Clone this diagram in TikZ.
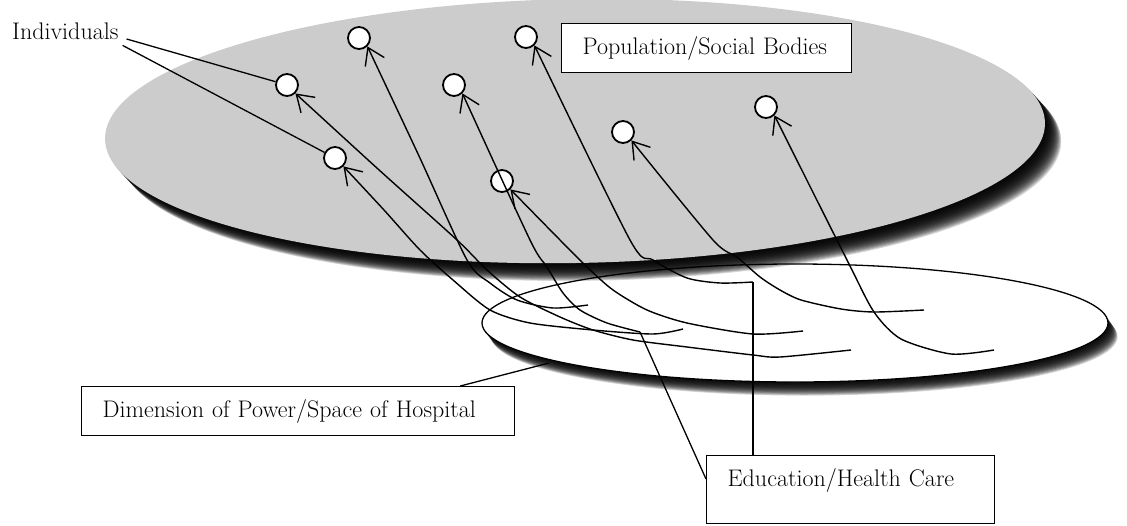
\documentclass[tikz,border=0pt]{standalone}
\usetikzlibrary{arrows.meta}
\begin{document}
\begin{tikzpicture}[x=1pt, y=-1pt, font=\fontsize{24}{28}\selectfont,
  person/.style={circle, draw, line width=1.8pt, fill=white, minimum size=22pt, inner sep=0pt},
  lbl/.style={draw, line width=1.3pt, fill=white, anchor=north west, align=left,
              inner xsep=21pt, inner ysep=0pt, text height=31pt, text depth=18pt},
  ar/.style={-{Straight Barb[length=16pt,width=21pt]}, line width=1.4pt},
  ln/.style={line width=1.3pt}]
\useasboundingbox (0,0) rectangle (1127,525);
% hospital disc with its shadow
\foreach \k in {1,...,16}
  \fill[black, opacity=0.17] (795+0.6*\k,323+0.85*\k) ellipse [x radius=313pt, y radius=59pt];
\draw[line width=1.3pt, fill=white] (795,323) ellipse [x radius=313pt, y radius=59pt];
% population disc with its shadow
\foreach \k in {1,...,20}
  \fill[black, opacity=0.16, rotate around={1:(575,131)}] (575+0.8*\k,131+0.9*\k) ellipse [x radius=470pt, y radius=132pt];
\fill[black!20, rotate around={1:(575,131)}] (575,131) ellipse [x radius=470pt, y radius=132pt];
\node[person] (p1) at (359,38) {};
\node[person] (p2) at (526,37) {};
\node[person] (p3) at (287,85) {};
\node[person] (p4) at (454,85) {};
\node[person] (p5) at (335,158) {};
\node[person] (p6) at (502,181) {};
\node[person] (p7) at (623,132) {};
\node[person] (p8) at (766,107) {};
\node[lbl, text width=248pt] (pop) at (561,23) {Population/Social Bodies};
\node[lbl, text width=391pt] (dim) at (81,386) {Dimension of Power/Space of Hospital};
\node[lbl, text width=246pt, text depth=37pt] (edu) at (706,455) {Education/Health Care};
\node[anchor=base west, inner xsep=4pt, inner ysep=6pt] (indiv) at (8,39) {Individuals};
\coordinate (h1) at (588,305);
\coordinate (h2) at (753,282);
\coordinate (h3) at (851,350);
\coordinate (h4) at (640,332);
\coordinate (h5) at (683,329);
\coordinate (h6) at (803,331);
\coordinate (h7) at (924,310);
\coordinate (h8) at (994,350);
\coordinate (dimtip) at (549,363);
\draw[ar] plot[smooth, tension=0.45] coordinates {(h1) (553,308) (517,300) (490,283) (467,260) (419,156) (p1.-45)};
\draw[ar] plot[smooth, tension=0.45] coordinates {(h2) (720,283) (687,278) (653,260) (630,240) (p2.-45)};
\draw[ar] plot[smooth, tension=0.45] coordinates {(h3) (780,357) (753,355) (687,347) (633,340) (593,330) (560,317) (520,297) (487,270) (457,240) (378,169) (p3.-45)};
\draw[ar] plot[smooth, tension=0.45] coordinates {(h4) (607,323) (580,310) (563,293) (547,267) (530,240) (p4.-45)};
\draw[ar] plot[smooth, tension=0.45] coordinates {(h5) (653,334) (593,330) (530,323) (490,310) (453,280) (420,250) (384,210) (p5.-45)};
\draw[ar] plot[smooth, tension=0.45] coordinates {(h6) (753,334) (687,323) (647,310) (613,290) (587,267) (560,240) (p6.-45)};
\draw[ar] plot[smooth, tension=0.45] coordinates {(h7) (874,312) (841,309) (801,300) (780,290) (760,277) (737,257) (713,240) (p7.-45)};
\draw[ar] plot[smooth, tension=0.45] coordinates {(h8) (951,354) (901,339) (874,312) (848,262) (p8.-45)};
\draw[ln] ([xshift=4pt]indiv.base east) -- (p3);
\draw[ln] (indiv.south east) -- (p5);
\draw[ln] ([xshift=-55pt]dim.north east) -- (dimtip);
\draw[ln] (h2) -- (h2 |- edu.north);
\draw[ln] (h4) -- ([yshift=-24pt]edu.north west);
\end{tikzpicture}
\end{document}
